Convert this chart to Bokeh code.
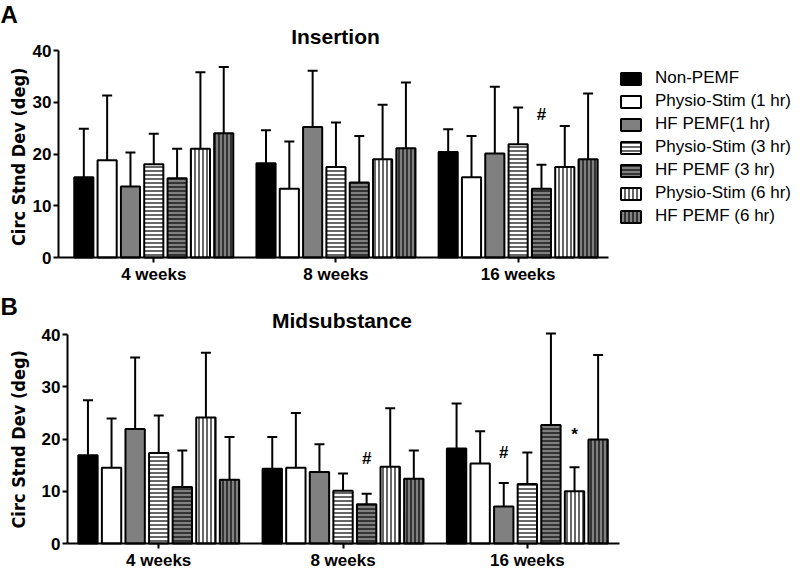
import pandas as pd
from bokeh.plotting import figure
from bokeh.models import (Range1d, FixedTicker, Whisker, TeeHead, Legend, LegendItem,
                          ColumnDataSource, Label)
from bokeh.layouts import column
from bokeh.embed import file_html
from bokeh.resources import INLINE

# ---------------- data ----------------
groups = ["4 weeks", "8 weeks", "16 weeks"]
series = ["Non-PEMF", "Physio-Stim (1 hr)", "HF PEMF(1 hr)", "Physio-Stim (3 hr)",
          "HF PEMF (3 hr)", "Physio-Stim (6 hr)", "HF PEMF (6 hr)"]
y_ticks = [0, 10, 20, 30, 40]

# Panel A - Insertion (mean, SD) per series at 4, 8, 16 weeks
ins_mean_non_pemf = [15.5, 18.2, 20.4]
ins_mean_ps1 = [18.8, 13.3, 15.5]
ins_mean_hf1 = [13.7, 25.2, 20.1]
ins_mean_ps3 = [18.0, 17.5, 21.9]
ins_mean_hf3 = [15.3, 14.5, 13.3]
ins_mean_ps6 = [21.0, 19.0, 17.5]
ins_mean_hf6 = [24.0, 21.1, 19.0]

ins_sd_non_pemf = [9.4, 6.4, 4.4]
ins_sd_ps1 = [12.5, 9.1, 8.0]
ins_sd_hf1 = [6.6, 10.9, 12.9]
ins_sd_ps3 = [5.9, 8.6, 7.1]
ins_sd_hf3 = [5.7, 9.0, 4.6]
ins_sd_ps6 = [14.8, 10.5, 7.9]
ins_sd_hf6 = [12.8, 12.7, 12.7]

# Panel B - Midsubstance
mid_mean_non_pemf = [16.9, 14.3, 18.2]
mid_mean_ps1 = [14.5, 14.5, 15.3]
mid_mean_hf1 = [21.9, 13.7, 7.1]
mid_mean_ps3 = [17.3, 10.1, 11.4]
mid_mean_hf3 = [10.8, 7.5, 22.7]
mid_mean_ps6 = [24.1, 14.7, 10.0]
mid_mean_hf6 = [12.2, 12.4, 19.9]

mid_sd_non_pemf = [10.5, 6.1, 8.6]
mid_sd_ps1 = [9.4, 10.5, 6.2]
mid_sd_hf1 = [13.7, 5.3, 4.5]
mid_sd_ps3 = [7.2, 3.3, 6.0]
mid_sd_hf3 = [7.0, 2.0, 17.5]
mid_sd_ps6 = [12.4, 11.2, 4.6]
mid_sd_hf6 = [8.2, 5.4, 16.2]

# significance marks: (symbol, group index, series index, y position)
ins_marks = [("#", 2, 4, 27.6)]
mid_marks = [("#", 1, 4, 16.3), ("#", 2, 2, 17.4), ("*", 2, 5, 20.9)]

ins_means = [ins_mean_non_pemf, ins_mean_ps1, ins_mean_hf1, ins_mean_ps3,
             ins_mean_hf3, ins_mean_ps6, ins_mean_hf6]
ins_sds = [ins_sd_non_pemf, ins_sd_ps1, ins_sd_hf1, ins_sd_ps3,
           ins_sd_hf3, ins_sd_ps6, ins_sd_hf6]
mid_means = [mid_mean_non_pemf, mid_mean_ps1, mid_mean_hf1, mid_mean_ps3,
             mid_mean_hf3, mid_mean_ps6, mid_mean_hf6]
mid_sds = [mid_sd_non_pemf, mid_sd_ps1, mid_sd_hf1, mid_sd_ps3,
           mid_sd_hf3, mid_sd_ps6, mid_sd_hf6]

# ---------------- style ----------------
GRAY = "#808080"
fills = ["black", "white", GRAY, "white", GRAY, "white", GRAY]
hatches = [None, None, None, "horizontal_line", "horizontal_line",
           "vertical_line", "vertical_line"]
BAR_STEP = 0.128
BAR_W = 0.105
FONT = "Liberation Sans"
NARROW = "'DejaVu Sans Condensed', 'Liberation Sans', sans-serif"
W = 800


def make_panel(means, sds, marks, title, letter, fig_top, fig_h,
               frame, x_rng, letter_y, title_xy, ylab_xy, with_legend):
    # frame = page-pixel box of the axes (left, right, top, bottom)
    fl, fr, ft, fb = frame
    x0, x1 = x_rng
    sx = (fr - fl) / (x1 - x0)
    sy = (fb - ft) / 40.0
    X0 = x0 - fl / sx
    X1 = x1 + (W - fr) / sx
    Y1 = 40 + (ft - fig_top) / sy
    Y0 = -(fig_top + fig_h - fb) / sy

    def dx(px):
        return X0 + px / sx

    def dy(py):
        return Y0 + (fig_top + fig_h - py) / sy

    p = figure(width=W, height=fig_h, output_backend="svg", toolbar_location=None,
               title=None, x_range=Range1d(X0, X1), y_range=Range1d(Y0, Y1),
               min_border_left=0, min_border_right=0,
               min_border_top=0, min_border_bottom=0)
    p.outline_line_color = None
    p.xgrid.visible = False
    p.ygrid.visible = False
    p.background_fill_color = "white"
    p.border_fill_color = "white"

    all_x, all_top, all_up = [], [], []
    items = []
    for i, name in enumerate(series):
        xs = [g + (i - 3) * BAR_STEP for g in range(len(groups))]
        df = pd.DataFrame({"x": xs, "top": means[i],
                           "upper": [m + s for m, s in zip(means[i], sds[i])]})
        src = ColumnDataSource(df)
        r = p.vbar(x="x", top="top", bottom=0, width=BAR_W, source=src,
                   fill_color=fills[i], line_color="black", line_width=2,
                   hatch_pattern=hatches[i], hatch_color="black",
                   hatch_scale=4, hatch_weight=1.2)
        items.append(LegendItem(label=name, renderers=[r]))
        all_x += xs
        all_top += means[i]
        all_up += list(df["upper"])

    wsrc = ColumnDataSource(dict(x=all_x, lower=all_top, upper=all_up))
    wh = Whisker(base="x", lower="lower", upper="upper", source=wsrc,
                 line_color="black", line_width=2,
                 upper_head=TeeHead(size=10, line_width=2, line_color="black"),
                 lower_head=None)
    p.add_layout(wh)

    # axes drawn at fixed data positions, limited to the data extent
    for ax in (p.xaxis[0], p.yaxis[0]):
        ax.axis_line_width = 2
        ax.axis_line_color = "black"
        ax.major_tick_line_width = 2
        ax.major_tick_line_color = "black"
        ax.major_tick_in = 0
        ax.major_tick_out = 5
        ax.minor_tick_line_color = None
        ax.major_label_text_font = FONT
        ax.major_label_text_font_style = "bold"
        ax.major_label_text_font_size = "17px"
        ax.major_label_text_color = "black"
        ax.major_label_standoff = 2
    p.xaxis.fixed_location = 0
    p.xaxis.bounds = (x0, x1)
    p.yaxis.fixed_location = x0
    p.yaxis.bounds = (0, 40)
    p.xaxis.ticker = FixedTicker(ticks=list(range(len(groups))))
    p.xaxis.major_label_overrides = {i: g for i, g in enumerate(groups)}
    p.yaxis.ticker = FixedTicker(ticks=y_ticks)

    # significance marks
    for sym, g, s, yv in marks:
        p.add_layout(Label(x=g + (s - 3) * BAR_STEP, y=yv, text=sym,
                           text_align="center", text_baseline="middle",
                           text_font=FONT, text_font_size="17px",
                           text_font_style="bold", text_color="black"))

    # panel letter, title, y-axis title
    p.add_layout(Label(x=dx(0), y=dy(letter_y), text=letter, text_align="left",
                       text_baseline="middle", text_font=FONT, text_color="black",
                       text_font_size="24px", text_font_style="bold"))
    p.add_layout(Label(x=dx(title_xy[0]), y=dy(title_xy[1]), text=title,
                       text_align="center", text_baseline="middle", text_font=FONT,
                       text_color="black",
                       text_font_size="21px", text_font_style="bold"))
    p.add_layout(Label(x=dx(ylab_xy[0]), y=dy(ylab_xy[1]),
                       text="Circ Stnd  Dev (deg)", angle=90, angle_units="deg",
                       text_align="center", text_baseline="middle", text_font=NARROW,
                       text_color="black",
                       text_font_size="18px", text_font_style="bold"))

    if with_legend:
        leg = Legend(items=items, location=(618, fig_top + fig_h - 226),
                     glyph_width=25, glyph_height=15, label_height=18,
                     label_standoff=12, spacing=3, padding=7,
                     label_text_font=FONT, label_text_font_size="17px",
                     label_text_color="black",
                     border_line_color=None, background_fill_alpha=0)
        p.add_layout(leg)
    return p


pA = make_panel(ins_means, ins_sds, ins_marks, "Insertion", "A",
                fig_top=0, fig_h=282, frame=(58, 608, 50, 257),
                x_rng=(-0.523, 2.496), letter_y=13.5, title_xy=(335, 36),
                ylab_xy=(18, 153.5), with_legend=True)
pB = make_panel(mid_means, mid_sds, mid_marks, "Midsubstance", "B",
                fig_top=282, fig_h=289, frame=(67, 619, 334, 543),
                x_rng=(-0.495, 2.50), letter_y=305.5,
                title_xy=(341.5, 320), ylab_xy=(18, 436), with_legend=False)

layout = column(pA, pB, spacing=0)
open("out.html", "w").write(file_html(layout, INLINE))
